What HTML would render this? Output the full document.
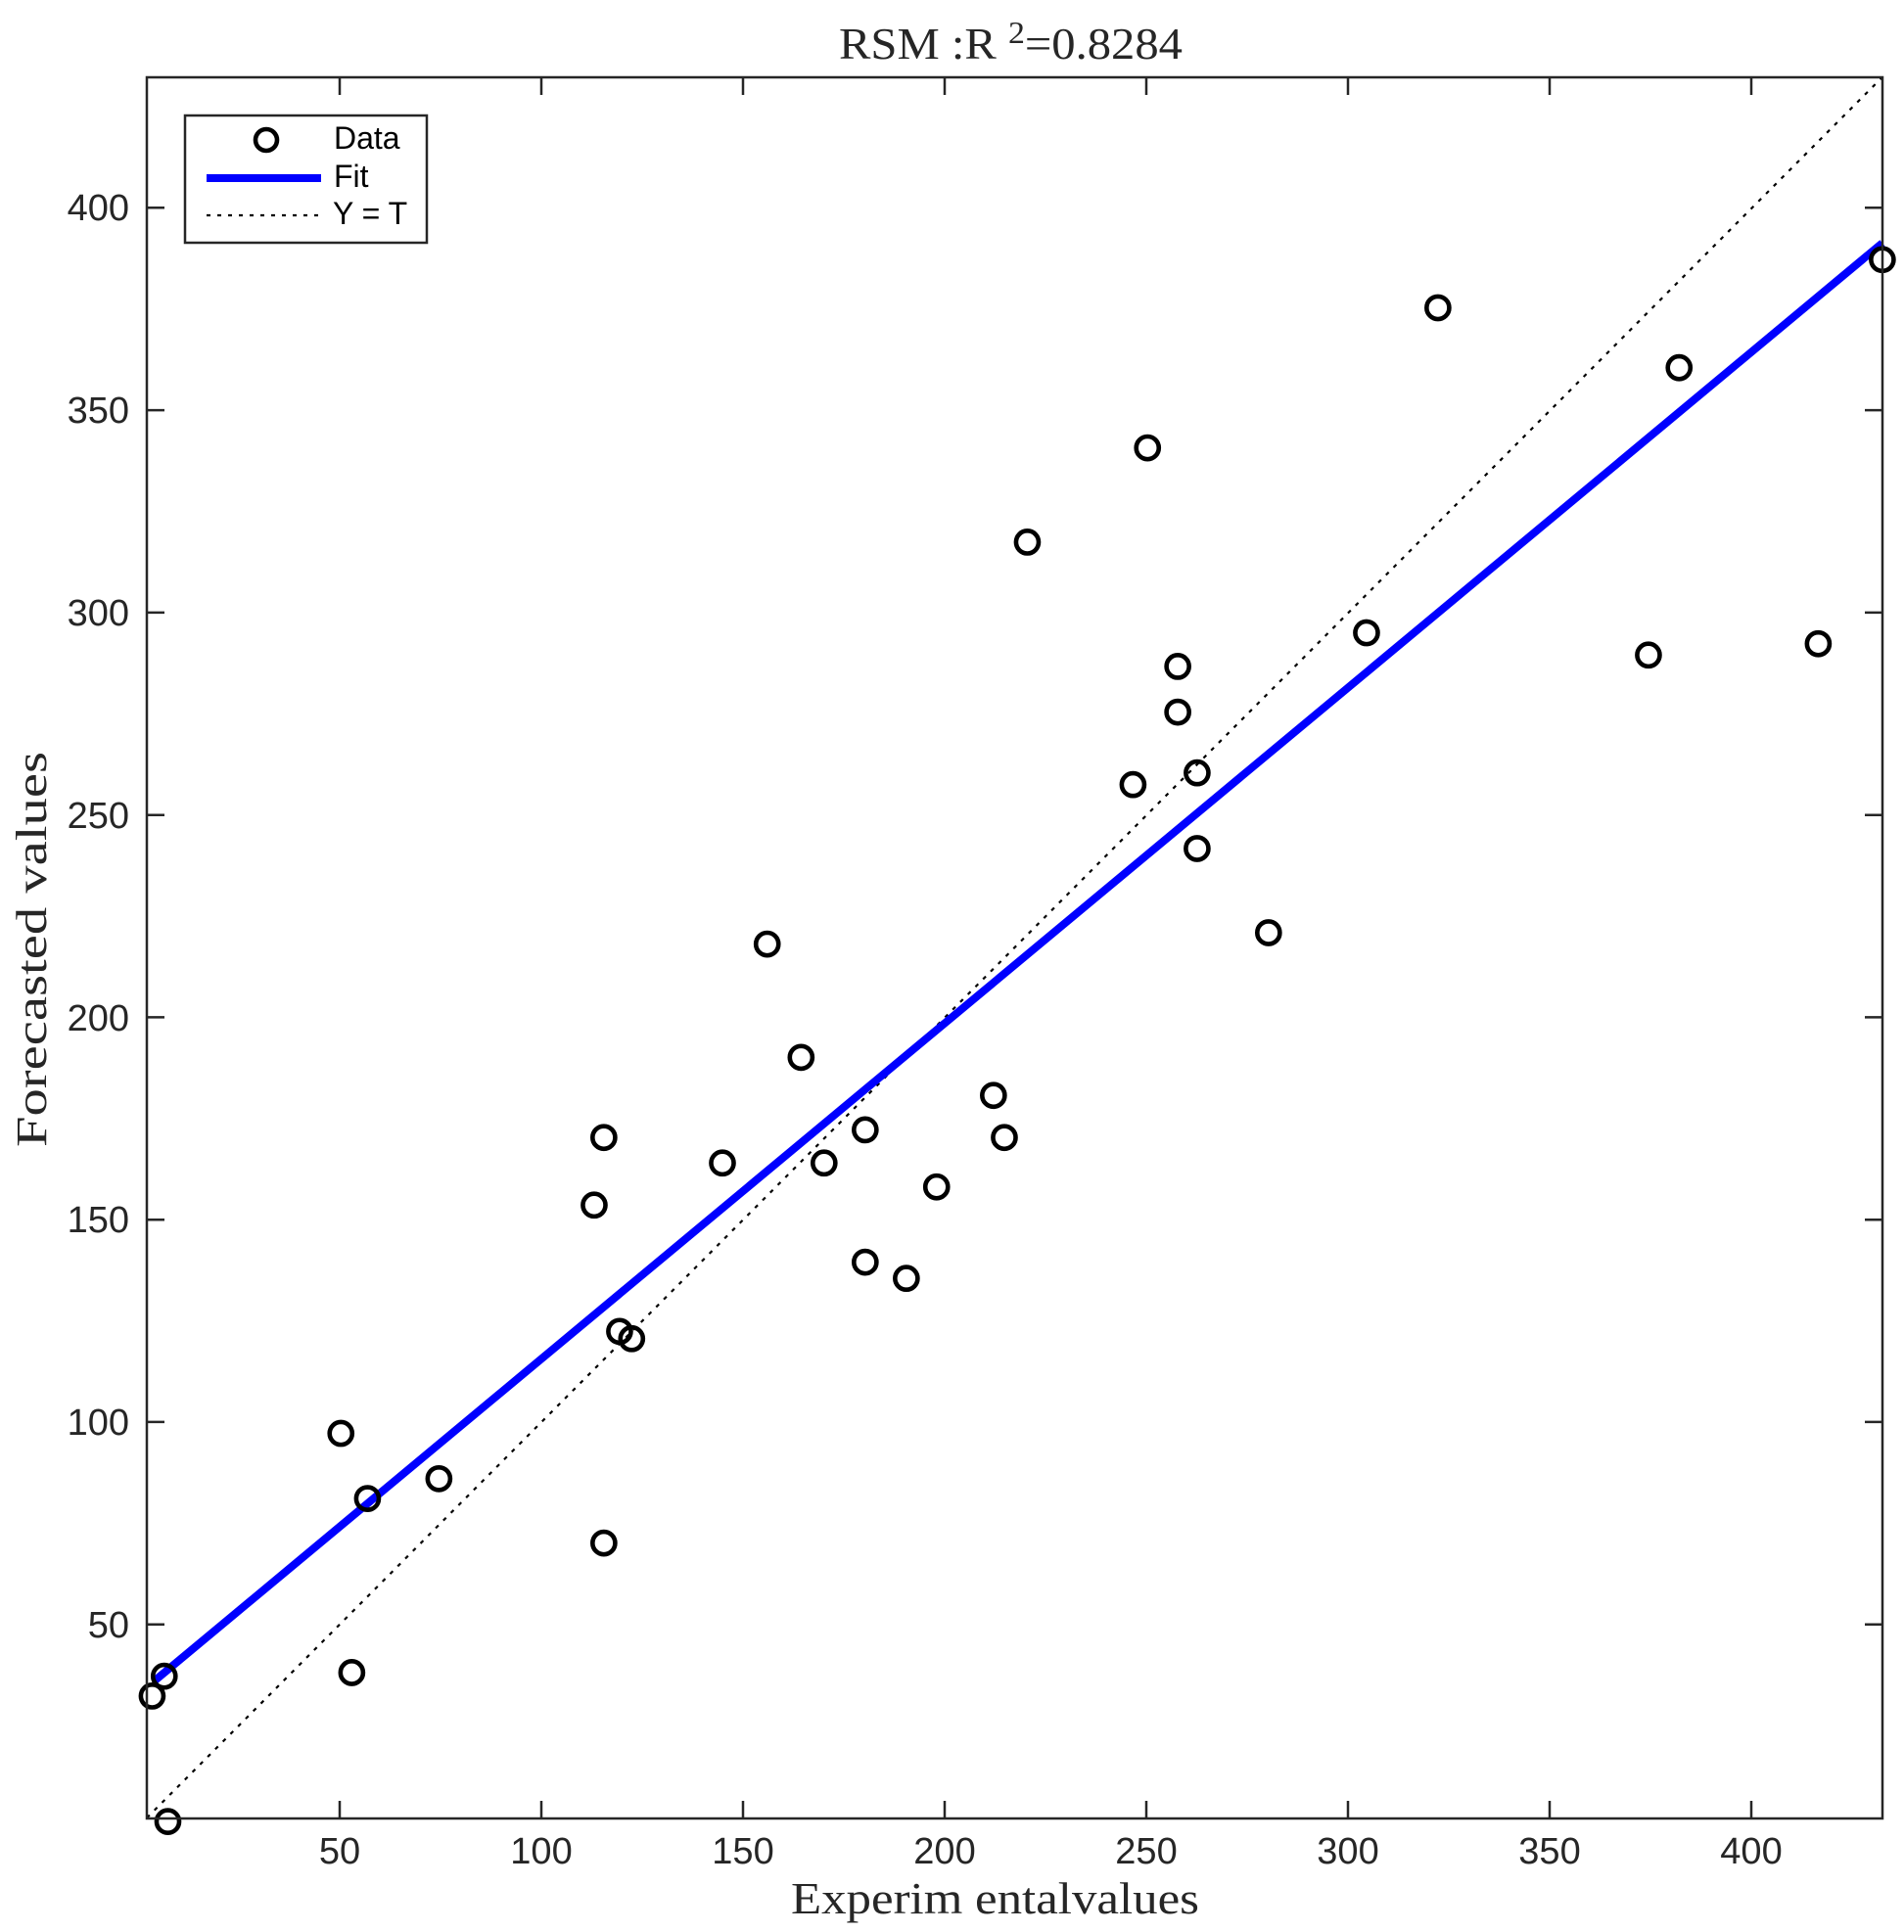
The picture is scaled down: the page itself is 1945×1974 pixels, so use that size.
<!DOCTYPE html>
<html><head><meta charset="utf-8"><style>
html,body{margin:0;padding:0;background:#fff;}
svg{display:block;}
</style></head><body>
<svg width="1945" height="1974" viewBox="0 0 1945 1974" xmlns="http://www.w3.org/2000/svg">
<rect width="1945" height="1974" fill="#fff"/>
<line x1="150" y1="1857.4" x2="1922.9" y2="78.8" stroke="#000" stroke-width="2.2" stroke-dasharray="4 7"/>
<g transform="matrix(4.12 0 0 -4.1354 141 1866.5)">
<line x1="4" y1="36.0" x2="432.5" y2="391.3" stroke="#0000ff" stroke-width="8" vector-effect="non-scaling-stroke"/>
<g fill="none" stroke="#000" stroke-width="4.6">
<circle cx="432.5" cy="387.2" r="2.8" vector-effect="non-scaling-stroke"/>
<circle cx="322.3" cy="375.3" r="2.8" vector-effect="non-scaling-stroke"/>
<circle cx="382.1" cy="360.5" r="2.8" vector-effect="non-scaling-stroke"/>
<circle cx="250.3" cy="340.7" r="2.8" vector-effect="non-scaling-stroke"/>
<circle cx="220.5" cy="317.4" r="2.8" vector-effect="non-scaling-stroke"/>
<circle cx="304.6" cy="295.0" r="2.8" vector-effect="non-scaling-stroke"/>
<circle cx="374.5" cy="289.5" r="2.8" vector-effect="non-scaling-stroke"/>
<circle cx="416.6" cy="292.3" r="2.8" vector-effect="non-scaling-stroke"/>
<circle cx="257.8" cy="286.7" r="2.8" vector-effect="non-scaling-stroke"/>
<circle cx="257.8" cy="275.4" r="2.8" vector-effect="non-scaling-stroke"/>
<circle cx="246.7" cy="257.5" r="2.8" vector-effect="non-scaling-stroke"/>
<circle cx="262.6" cy="260.4" r="2.8" vector-effect="non-scaling-stroke"/>
<circle cx="262.6" cy="241.7" r="2.8" vector-effect="non-scaling-stroke"/>
<circle cx="280.3" cy="220.9" r="2.8" vector-effect="non-scaling-stroke"/>
<circle cx="156.0" cy="218.1" r="2.8" vector-effect="non-scaling-stroke"/>
<circle cx="164.4" cy="190.1" r="2.8" vector-effect="non-scaling-stroke"/>
<circle cx="212.1" cy="180.7" r="2.8" vector-effect="non-scaling-stroke"/>
<circle cx="214.8" cy="170.3" r="2.8" vector-effect="non-scaling-stroke"/>
<circle cx="115.5" cy="170.3" r="2.8" vector-effect="non-scaling-stroke"/>
<circle cx="180.3" cy="172.2" r="2.8" vector-effect="non-scaling-stroke"/>
<circle cx="144.9" cy="164.0" r="2.8" vector-effect="non-scaling-stroke"/>
<circle cx="170.1" cy="164.0" r="2.8" vector-effect="non-scaling-stroke"/>
<circle cx="113.1" cy="153.6" r="2.8" vector-effect="non-scaling-stroke"/>
<circle cx="198.0" cy="158.1" r="2.8" vector-effect="non-scaling-stroke"/>
<circle cx="180.3" cy="139.5" r="2.8" vector-effect="non-scaling-stroke"/>
<circle cx="190.5" cy="135.5" r="2.8" vector-effect="non-scaling-stroke"/>
<circle cx="119.4" cy="122.4" r="2.8" vector-effect="non-scaling-stroke"/>
<circle cx="122.4" cy="120.6" r="2.8" vector-effect="non-scaling-stroke"/>
<circle cx="50.3" cy="97.2" r="2.8" vector-effect="non-scaling-stroke"/>
<circle cx="56.9" cy="81.1" r="2.8" vector-effect="non-scaling-stroke"/>
<circle cx="74.6" cy="86.0" r="2.8" vector-effect="non-scaling-stroke"/>
<circle cx="115.5" cy="70.1" r="2.8" vector-effect="non-scaling-stroke"/>
<circle cx="53.0" cy="38.1" r="2.8" vector-effect="non-scaling-stroke"/>
<circle cx="6.5" cy="37.2" r="2.8" vector-effect="non-scaling-stroke"/>
<circle cx="3.5" cy="32.3" r="2.8" vector-effect="non-scaling-stroke"/>
<circle cx="7.4" cy="1.3" r="2.8" vector-effect="non-scaling-stroke"/>
</g>
</g>
<rect x="150" y="79" width="1773" height="1779" fill="none" stroke="#262626" stroke-width="2.5"/>
<g stroke="#262626" stroke-width="2.5">
<line x1="347" y1="1858" x2="347" y2="1840"/><line x1="347" y1="79" x2="347" y2="97"/>
<line x1="553" y1="1858" x2="553" y2="1840"/><line x1="553" y1="79" x2="553" y2="97"/>
<line x1="759" y1="1858" x2="759" y2="1840"/><line x1="759" y1="79" x2="759" y2="97"/>
<line x1="965" y1="1858" x2="965" y2="1840"/><line x1="965" y1="79" x2="965" y2="97"/>
<line x1="1171" y1="1858" x2="1171" y2="1840"/><line x1="1171" y1="79" x2="1171" y2="97"/>
<line x1="1377" y1="1858" x2="1377" y2="1840"/><line x1="1377" y1="79" x2="1377" y2="97"/>
<line x1="1583" y1="1858" x2="1583" y2="1840"/><line x1="1583" y1="79" x2="1583" y2="97"/>
<line x1="1789" y1="1858" x2="1789" y2="1840"/><line x1="1789" y1="79" x2="1789" y2="97"/>
<line x1="150" y1="1659.7" x2="168" y2="1659.7"/><line x1="1923" y1="1659.7" x2="1905" y2="1659.7"/>
<line x1="150" y1="1452.9" x2="168" y2="1452.9"/><line x1="1923" y1="1452.9" x2="1905" y2="1452.9"/>
<line x1="150" y1="1246.2" x2="168" y2="1246.2"/><line x1="1923" y1="1246.2" x2="1905" y2="1246.2"/>
<line x1="150" y1="1039.4" x2="168" y2="1039.4"/><line x1="1923" y1="1039.4" x2="1905" y2="1039.4"/>
<line x1="150" y1="832.7" x2="168" y2="832.7"/><line x1="1923" y1="832.7" x2="1905" y2="832.7"/>
<line x1="150" y1="625.9" x2="168" y2="625.9"/><line x1="1923" y1="625.9" x2="1905" y2="625.9"/>
<line x1="150" y1="419.1" x2="168" y2="419.1"/><line x1="1923" y1="419.1" x2="1905" y2="419.1"/>
<line x1="150" y1="212.3" x2="168" y2="212.3"/><line x1="1923" y1="212.3" x2="1905" y2="212.3"/>
</g>
<g font-family="Liberation Sans, Arial, sans-serif" font-size="38" fill="#262626" text-anchor="middle">
<text x="347" y="1904">50</text><text x="553" y="1904">100</text><text x="759" y="1904">150</text>
<text x="965" y="1904">200</text><text x="1171" y="1904">250</text><text x="1377" y="1904">300</text>
<text x="1583" y="1904">350</text><text x="1789" y="1904">400</text>
</g>
<g font-family="Liberation Sans, Arial, sans-serif" font-size="38" fill="#262626" text-anchor="end">
<text x="132" y="1673">50</text><text x="132" y="1466">100</text><text x="132" y="1259">150</text>
<text x="132" y="1053">200</text><text x="132" y="846">250</text><text x="132" y="639">300</text>
<text x="132" y="432">350</text><text x="132" y="225">400</text>
</g>
<rect x="189" y="118" width="247" height="130" fill="#fff" stroke="#262626" stroke-width="2.5"/>
<circle cx="272" cy="143" r="11" fill="none" stroke="#000" stroke-width="4.6"/>
<line x1="211" y1="182" x2="328" y2="182" stroke="#0000ff" stroke-width="8"/>
<line x1="211" y1="220" x2="328" y2="220" stroke="#000" stroke-width="2.2" stroke-dasharray="4 7"/>
<g font-family="Liberation Sans, Arial, sans-serif" font-size="32" fill="#000">
<text x="341" y="152">Data</text><text x="341" y="191">Fit</text><text x="340" y="229">Y = T</text>
</g>
<text x="857" y="60" font-family="Liberation Serif, serif" font-size="46" fill="#262626" textLength="351" lengthAdjust="spacingAndGlyphs">RSM :R <tspan dy="-16" font-size="32">2</tspan><tspan dy="16">=0.8284</tspan></text>
<text x="808" y="1955" font-family="Liberation Serif, serif" font-size="46" fill="#262626" textLength="417" lengthAdjust="spacingAndGlyphs">Experim entalvalues</text>
<text transform="translate(47,1172) rotate(-90)" font-family="Liberation Serif, serif" font-size="44" fill="#262626" textLength="404" lengthAdjust="spacingAndGlyphs">Forecasted values</text>
</svg>
</body></html>
